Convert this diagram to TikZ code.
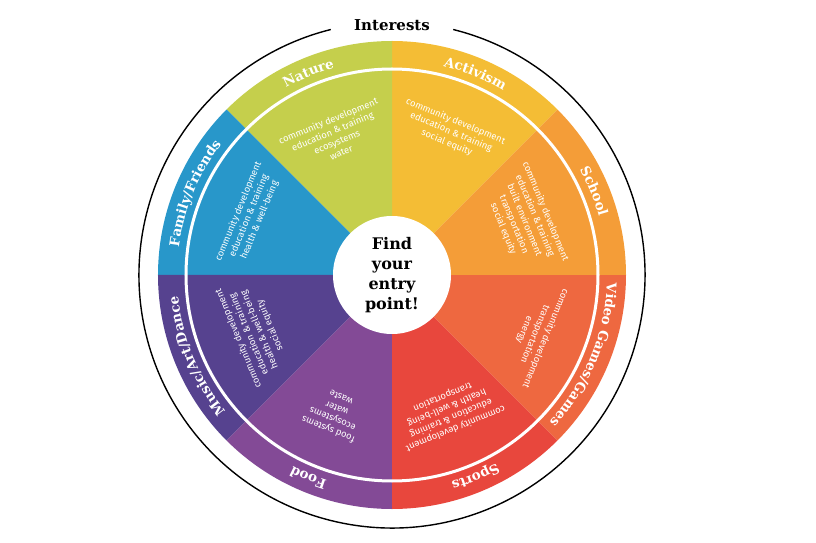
\documentclass[tikz,border=0pt]{standalone}
\usepackage{fontspec}
\setmainfont{DejaVu Serif}
\newfontfamily\itemfont{Fira Sans}
\usetikzlibrary{decorations.text}
\definecolor{naturegreen}{RGB}{197,207,76}
\definecolor{activismyellow}{RGB}{244,189,53}
\definecolor{schoolorange}{RGB}{244,157,56}
\definecolor{videoorange}{RGB}{238,104,64}
\definecolor{sportsred}{RGB}{232,71,61}
\definecolor{foodpurple}{RGB}{131,74,150}
\definecolor{musicviolet}{RGB}{86,66,143}
\definecolor{familyblue}{RGB}{40,151,202}
\newcommand\bandfont{\bfseries\fontsize{13.5}{16}\selectfont}
\begin{document}
\begin{tikzpicture}[x=1pt,y=1pt,
  bandlabel/.style={decorate,decoration={text along path,text align=center,text color=white,text={|\bandfont|#1}}},
  items/.style={text=white,align=center,anchor=north,inner sep=0pt,font=\itemfont\fontsize{9.4}{11.4}\selectfont}]
  \useasboundingbox (-392,-268) rectangle (424,275);
  % wedges
  \fill[activismyellow] (0,0) -- (45:234)  arc[start angle=45,end angle=90,radius=234] -- cycle;
  \fill[naturegreen]    (0,0) -- (90:234)  arc[start angle=90,end angle=135,radius=234] -- cycle;
  \fill[familyblue]     (0,0) -- (135:234) arc[start angle=135,end angle=180,radius=234] -- cycle;
  \fill[musicviolet]    (0,0) -- (180:234) arc[start angle=180,end angle=225,radius=234] -- cycle;
  \fill[foodpurple]     (0,0) -- (225:234) arc[start angle=225,end angle=270,radius=234] -- cycle;
  \fill[sportsred]      (0,0) -- (270:234) arc[start angle=270,end angle=315,radius=234] -- cycle;
  \fill[videoorange]    (0,0) -- (315:234) arc[start angle=315,end angle=360,radius=234] -- cycle;
  \fill[schoolorange]   (0,0) -- (0:234)   arc[start angle=0,end angle=45,radius=234] -- cycle;
  \draw[white,line width=3pt] (0,0) circle[radius=206];
  \draw[line width=1.4pt] (76:253) arc[start angle=76,end angle=-256,radius=253];
  \node[font=\bfseries\fontsize{15}{18}\selectfont] (interests) at (90:250) {Interests};
  % labels in the band
  \path[bandlabel=Nature]            (135:215) arc[start angle=135,end angle=90,radius=215];
  \path[bandlabel=Activism]          (90:215)  arc[start angle=90,end angle=45,radius=215];
  \path[bandlabel=School]            (45:215)  arc[start angle=45,end angle=0,radius=215];
  \path[bandlabel=Video Games/Games] (0:215)   arc[start angle=0,end angle=-45,radius=215];
  \path[bandlabel=Sports]            (-45:215) arc[start angle=-45,end angle=-90,radius=215];
  \path[bandlabel=Food]              (270:215) arc[start angle=270,end angle=225,radius=215];
  \path[bandlabel=Music/Art/Dance]   (225:215) arc[start angle=225,end angle=180,radius=215];
  \path[bandlabel=Family/Friends]    (180:215) arc[start angle=180,end angle=135,radius=215];
  % topics
  \node[items,rotate=22.5]   (naturetopics)   at (112.5:171) {community development\\education \& training\\ecosystems\\water};
  \node[items,rotate=-22.5]  (activismtopics) at (67.5:171)  {community development\\education \& training\\social equity};
  \node[items,rotate=-67.5]  (schooltopics)   at (22.5:171)  {community development\\education \& training\\built environment\\transportation\\social equity};
  \node[items,rotate=-112.5] (videotopics)    at (-22.5:171) {community development\\transportation\\energy};
  \node[items,rotate=-157.5] (sportstopics)   at (-67.5:171) {community development\\education \& training\\health \& well-being\\transportation};
  \node[items,rotate=157.5]  (foodtopics)     at (247.5:171) {food systems\\ecosystems\\water\\waste};
  \node[items,rotate=112.5]  (musictopics)    at (202.5:171) {community development\\education \& training\\health \& well-being\\social equity};
  \node[items,rotate=67.5]   (familytopics)   at (157.5:171) {community development\\education \& training\\health \& well-being};
  \node[circle,fill=white,minimum size=118pt,inner sep=0pt,align=center,font=\bfseries\fontsize{16}{20}\selectfont] (entry) at (0,0) {Find\\your\\entry\\point!};
\end{tikzpicture}
\end{document}
